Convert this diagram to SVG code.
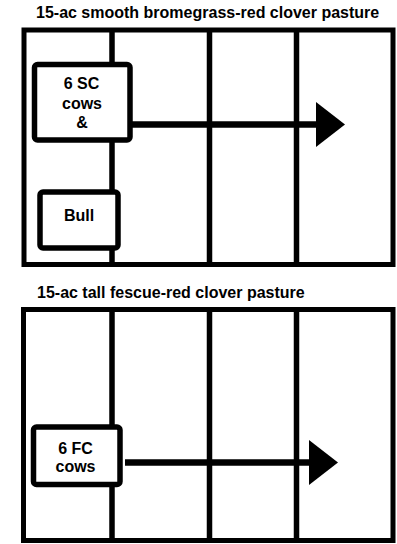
<svg xmlns="http://www.w3.org/2000/svg" width="397" height="544" viewBox="0 0 397 544">
<style>
.t{font-family:"Liberation Sans",Arial,sans-serif;font-weight:bold;font-size:16px;fill:#000}
.c{text-anchor:middle}
.frame{fill:#fff;stroke:#000;stroke-width:5}
.grid{stroke:#000;stroke-width:5.5;fill:none}
.box{fill:#fff;stroke:#000;stroke-width:5.5}
.arr{stroke:#000;stroke-width:6.5;fill:none}
</style>
<defs>
<marker id="ah" markerUnits="userSpaceOnUse" viewBox="0 0 29 45" markerWidth="29" markerHeight="45" refX="0" refY="22.5" orient="auto">
<path d="M0,0 L29,22.5 L0,45 Z" fill="#000"/>
</marker>
</defs>
<rect width="397" height="544" fill="#fff"/>
<g id="pasture1">
<text class="t" x="36" y="17.5">15-ac smooth bromegrass-red clover pasture</text>
<rect class="frame" x="24" y="30" width="369" height="234.5"/>
<line class="grid" x1="112" y1="30" x2="112" y2="264.5"/>
<line class="grid" x1="209.5" y1="30" x2="209.5" y2="264.5"/>
<line class="grid" x1="296.5" y1="30" x2="296.5" y2="264.5"/>
</g>
<g id="pasture2">
<text class="t" x="37" y="297.5">15-ac tall fescue-red clover pasture</text>
<rect class="frame" x="23.5" y="309.5" width="369.5" height="231"/>
<line class="grid" x1="112" y1="309.5" x2="112" y2="540.5"/>
<line class="grid" x1="209.5" y1="309.5" x2="209.5" y2="540.5"/>
<line class="grid" x1="296.5" y1="309.5" x2="296.5" y2="540.5"/>
</g>
<g id="connectors">
<line class="arr" x1="130" y1="124.5" x2="316" y2="124.5" marker-end="url(#ah)"/>
<line class="arr" x1="125" y1="462.5" x2="309" y2="462.5" marker-end="url(#ah)"/>
</g>
<g id="sc-cows">
<rect class="box" x="34.5" y="64.5" width="95.5" height="75.5" rx="3"/>
<text class="t c" x="81.5" y="89.3">6 SC</text>
<text class="t c" x="82" y="109.3">cows</text>
<text class="t c" x="82" y="128.3">&amp;</text>
</g>
<g id="bull">
<rect class="box" x="40" y="192" width="78" height="56" rx="3"/>
<text class="t c" x="79" y="221">Bull</text>
</g>
<g id="fc-cows">
<rect class="box" x="33.5" y="427" width="86.5" height="57.5" rx="3"/>
<text class="t c" x="75.5" y="454">6 FC</text>
<text class="t c" x="75.5" y="472">cows</text>
</g>
</svg>
